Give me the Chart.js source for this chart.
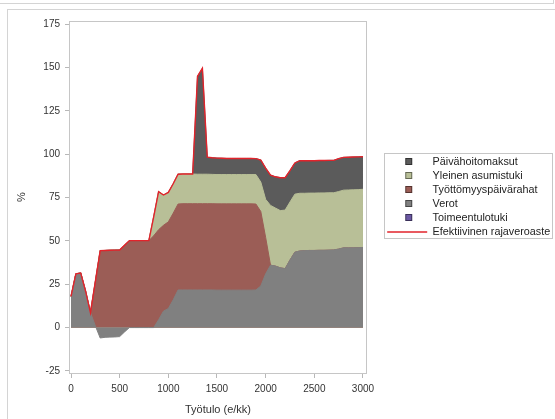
<!DOCTYPE html>
<html>
<head>
<meta charset="utf-8">
<script src="https://cdn.jsdelivr.net/npm/chart.js@4.4.0/dist/chart.umd.min.js"></script>
<style>
html,body{margin:0;padding:0;background:#fff;width:555px;height:419px;overflow:hidden;}
#topbox{position:absolute;left:-2px;top:-12px;width:554px;height:14px;border:1px solid #d4d4d4;}
#panel{position:absolute;left:7px;top:9px;width:600px;height:500px;border:1px solid #d4d4d4;}
#c{position:absolute;left:0;top:0;}
</style>
</head>
<body>
<div id="topbox"></div>
<div id="panel"></div>
<canvas id="c" width="555" height="419"></canvas>
<script>
// ---- data ----
const incomes = [0,50,100,150,200,250,300,350,400,450,500,550,600,650,700,750,800,850,900,950,
  1000,1050,1100,1150,1200,1250,1300,1350,1400,1450,1500,1550,1600,1650,1700,1750,1800,1850,1900,1950,
  2000,2050,2100,2150,2200,2250,2300,2350,2400,2450,2500,2550,2600,2650,2700,2750,2800,2850,2900,2950,3000];

const verot = [18,31,31.5,21,8.6,1,-6,-5.6,-5.5,-5.4,-5.2,-2.5,0,0,0,0,0,0,4.5,9.5,
  11,16,21.7,21.7,21.7,21.7,21.7,21.7,21.7,21.7,21.6,21.6,21.6,21.6,21.6,21.6,21.6,21.6,21.7,24,
  31,36,35.5,34.5,34,39,43.5,44.2,44.4,44.5,44.5,44.6,44.6,44.7,44.8,45.3,46,46,46,46.1,46.2];

const tyottomyyspaivarahat = [0,0,0,0,0,25.5,50.4,50.1,50.1,50.1,50,50,50.2,50.2,50.2,50.2,50.2,53,52,49.5,
  50,50,49.6,49.8,49.8,49.8,49.8,49.8,49.8,49.8,49.8,49.8,49.8,49.8,49.8,49.8,49.8,49.8,49.6,43,
  21,0,0,0,0,0,0,0,0,0,0,0,0,0,0,0,0,0,0,0,0];

const asumistuki = [0,0,0,0,0,0,0,0,0,0,0,0,0,0,0,0,0,11,21.9,17.5,
  17,17,17.2,17.1,17.1,17.1,17,17,17,16.9,16.9,16.9,16.9,16.9,16.9,16.9,16.9,16.9,17,17,
  22,34.5,33.5,33,33.8,33.5,33.5,33.3,33.1,33.1,33.1,33.1,33.1,33.1,33,33.2,33.3,33.4,33.5,33.5,33.6];

const paivahoitomaksut = [0,0,0,0,0,0,0,0,0,0,0,0,0,0,0,0,0,0,0,0,
  0,0,0,0,0,0,56.5,61.1,9.8,9.6,9.5,9.4,9.3,9.3,9.3,9.3,9.3,9.3,9.2,12.7,
  18,17.5,18,19,18.7,18.1,18,18.8,18.8,18.7,18.7,18.7,18.7,18.7,18.7,19,18.9,18.9,18.9,18.9,18.8];

const toimeentulotuki = [0,0,0,0,0,0,0,0,0,0,0,0,0,0,0,0,0,0,0,0,
  0,0,0,0,0,0,0,0,0,0,0,0,0,0,0,0,0,0,0,0,
  0,0,0,0,0,0,0,0,0,0,0,0,0,0,0,0,0,0,0,0,0];

const rajaveroaste = [18,31,31.5,21,8.6,26.5,44.4,44.5,44.6,44.7,44.8,47.5,50.2,50.2,50.2,50.2,50.2,64,78.4,76.5,
  78,83,88.5,88.6,88.6,88.6,145,149.6,98.3,98,97.8,97.7,97.6,97.6,97.6,97.6,97.6,97.6,97.5,96.7,
  92,88,87,86.5,86.5,90.6,95,96.3,96.3,96.3,96.3,96.4,96.4,96.5,96.5,97.5,98.2,98.3,98.4,98.5,98.6];

const xTicks = [0,500,1000,1500,2000,2500,3000];
const yTicks = [-25,0,25,50,75,100,125,150,175];
const legendOrder = ['Päivähoitomaksut','Yleinen asumistuki','Työttömyyspäivärahat','Verot','Toimeentulotuki','Efektiivinen rajaveroaste'];

// ---- styling ----
const C = {
  verot:'#808080', tyo:'#9b5d56', asu:'#b8bf97', pv:'#5b5b5b', toim:'#6b58a3', rate:'#e2232b'
};
Chart.defaults.font.family = '"Liberation Sans", Arial, sans-serif';
Chart.defaults.color = '#333';

const pts = arr => arr.map((v, i) => ({x: incomes[i], y: v}));

function markerImg(color) {
  const c = document.createElement('canvas');
  c.width = 40; c.height = 12;
  const g = c.getContext('2d');
  g.fillStyle = color; g.fillRect(18, 2, 7, 7);
  g.strokeStyle = 'rgba(0,0,0,0.45)'; g.lineWidth = 1;
  g.strokeRect(18.5, 2.5, 6, 6);
  return c;
}

function area(label, data, color, fill) {
  return {
    label, data: pts(data), backgroundColor: color, borderColor: color,
    borderWidth: fill ? 1 : 0, fill: fill ? 'origin' : false, pointRadius: 0, tension: 0,
    legendStyle: markerImg(color), legendLine: 0
  };
}

const datasets = [
  { label:'Efektiivinen rajaveroaste', data: pts(rajaveroaste), stack:'rate', borderColor:C.rate,
    backgroundColor:C.rate, borderWidth:1.4, fill:false, pointRadius:0, tension:0,
    legendStyle: 'line', legendLine: 1.3 },
  area('Verot', verot, C.verot, true),
  area('Työttömyyspäivärahat', tyottomyyspaivarahat, C.tyo, true),
  area('Yleinen asumistuki', asumistuki, C.asu, true),
  area('Päivähoitomaksut', paivahoitomaksut, C.pv, true),
  area('Toimeentulotuki', toimeentulotuki, C.toim, false)
];

const framePlugin = {
  id: 'frame',
  afterDatasetsDraw(chart) {
    const {ctx, chartArea: a} = chart;
    ctx.save();
    ctx.strokeStyle = '#c6c6c6'; ctx.lineWidth = 1;
    ctx.strokeRect(Math.round(a.left) - 0.5, Math.round(a.top) + 0.5,
      Math.round(a.right - a.left) + 1, Math.round(a.bottom - a.top));
    ctx.restore();
  },
  afterDraw(chart) {
    const lg = chart.legend;
    if (!lg || !lg.legendHitBoxes || !lg.legendHitBoxes.length) return;
    const hb = lg.legendHitBoxes;
    const top = Math.round(hb[0].top) - 3.5;
    const bottom = Math.round(hb[hb.length - 1].top + hb[hb.length - 1].height) + 1.5;
    const ctx = chart.ctx;
    ctx.save();
    ctx.strokeStyle = '#c6c6c6'; ctx.lineWidth = 1;
    ctx.strokeRect(Math.round(lg.left) + 0.5, top, 168, bottom - top);
    ctx.restore();
  }
};

new Chart(document.getElementById('c'), {
  type: 'line',
  data: { datasets },
  plugins: [framePlugin],
  options: {
    responsive: false,
    animation: false,
    events: [],
    layout: { padding: { top: 21, left: 0, right: 0, bottom: 0 } },
    plugins: {
      tooltip: { enabled: false },
      legend: {
        position: 'right',
        align: 'center',
        fullSize: false,
        maxWidth: 171,
        labels: {
          usePointStyle: true,
          pointStyleWidth: 40,
          padding: 3.2,
          font: { size: 10.8 },
          color: '#222',
          generateLabels: chart => legendOrder.map(name => {
            const i = chart.data.datasets.findIndex(d => d.label === name);
            const ds = chart.data.datasets[i];
            return { text: name, datasetIndex: i, fillStyle: ds.backgroundColor,
              strokeStyle: ds.borderColor, lineWidth: ds.legendLine, hidden: false,
              pointStyle: ds.legendStyle, fontColor: '#222' };
          })
        }
      }
    },
    scales: {
      x: {
        type: 'linear', position: 'bottom', min: -10.3, max: 3031,
        afterFit: s => { s.height = 46; },
        afterBuildTicks: s => { s.ticks = xTicks.map(v => ({value: v})); },
        ticks: { font: { size: 10 }, color: '#333', padding: 5, maxRotation: 0, callback: v => String(v) },
        grid: { display: true, drawOnChartArea: false, drawTicks: true, tickLength: 5, color: '#b8b8b8' },
        border: { display: false },
        title: { display: true, text: 'Työtulo (e/kk)', font: { size: 11 }, color: '#333', padding: { top: 0, bottom: 2 } }
      },
      y: {
        type: 'linear', position: 'left', min: -26.2, max: 176.9, stacked: 'single',
        afterFit: s => { s.width = 70; },
        afterBuildTicks: s => { s.ticks = yTicks.map(v => ({value: v})); },
        ticks: { font: { size: 10 }, color: '#333', padding: 5, callback: v => String(v) },
        grid: { display: true, drawOnChartArea: false, drawTicks: true, tickLength: 5, color: '#b8b8b8' },
        border: { display: false },
        title: { display: true, text: '%', font: { size: 11 }, color: '#333', padding: { top: 15, bottom: 0 } }
      },
      gap: {
        type: 'linear', position: 'right', display: true,
        afterFit: s => { s.width = 18; },
        ticks: { display: false },
        grid: { display: false, drawTicks: false },
        border: { display: false }
      }
    }
  }
});
</script>
</body>
</html>
